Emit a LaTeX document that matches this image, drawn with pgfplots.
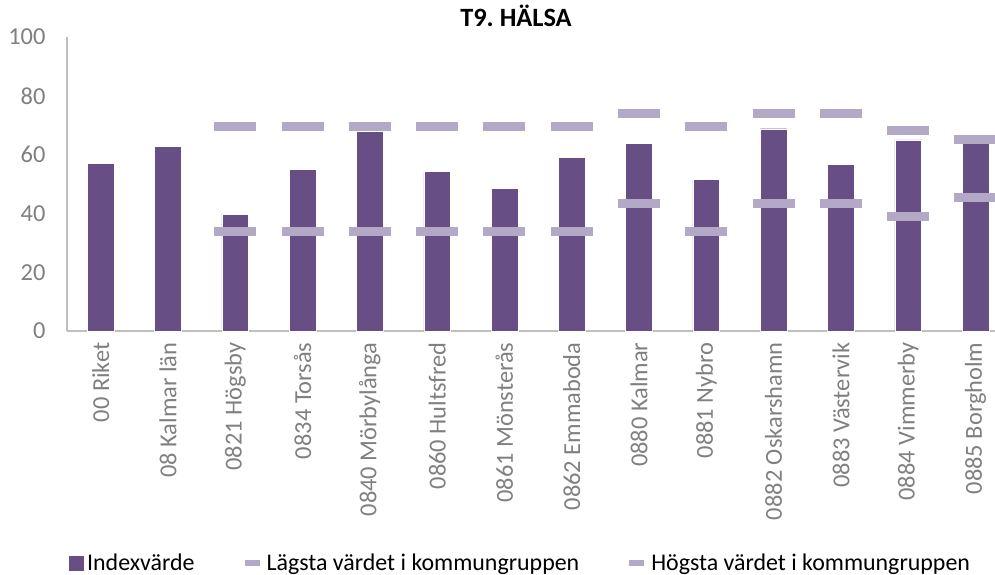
\documentclass[border=0pt]{standalone}
\usepackage{pgfplots}
\pgfplotsset{compat=1.18}
\usepackage{fontspec}
\setmainfont{Carlito}
\definecolor{barc}{HTML}{674F86}
\definecolor{markc}{HTML}{B4A8C7}
\definecolor{axc}{HTML}{BFBFBF}
\definecolor{txc}{HTML}{808080}
\begin{document}
\begin{tikzpicture}
\useasboundingbox (-67bp,-244bp) rectangle (928bp,331bp);
\begin{axis}[
  at={(0,0)}, anchor=south west,
  scale only axis, width=928bp, height=294bp,
  xmin=-0.5, xmax=13.29, ymin=0, ymax=100,
  ytick={0,20,...,100},
  xtick={0,...,13},
  xticklabels={00 Riket,08 Kalmar län,0821 Högsby,0834 Torsås,0840 Mörbylånga,0860 Hultsfred,0861 Mönsterås,0862 Emmaboda,0880 Kalmar,0881 Nybro,0882 Oskarshamn,0883 Västervik,0884 Vimmerby,0885 Borgholm},
  major tick length=0pt,
  axis x line*=bottom, axis y line*=left,
  axis line style={axc, line width=1.5bp, -},
  /pgf/number format/assume math mode=true,
  yticklabel style={font=\fontsize{24.5}{24.5}\selectfont, text=txc, xshift=-18bp},
  xticklabel style={font=\fontsize{24.5}{24.5}\selectfont, text=txc, rotate=90, anchor=east, xshift=-8bp},
  title={T9.\ HÄLSA},
  title style={font=\bfseries\fontsize{26.5}{26.5}\selectfont, at={(0.5,1)}, anchor=center, yshift=15bp, xshift=-15bp},
  clip=false,
  legend style={at={(0.488,-0.79)}, anchor=center, draw=none, legend columns=3,
    font=\fontsize{24}{24}\selectfont, column sep=0bp, nodes={inner sep=1bp},
    /tikz/every odd column/.append style={column sep=3bp},
    /tikz/every even column/.append style={column sep=46bp}},
]
\addplot[ybar, bar width=26.7bp, fill=barc, draw=white, line width=0.4bp,
  legend image code/.code={\fill[barc] (0bp,-7bp) rectangle (14bp,7bp);}]
  coordinates {(0,57) (1,62.7) (2,39.7) (3,55) (4,68) (5,54.2) (6,48.5) (7,59.1) (8,63.8) (9,51.6) (10,68.8) (11,56.7) (12,65) (13,64.3)};
\addlegendentry{Indexvärde}
\addplot[only marks, mark=-, mark size=21bp, mark options={line width=9bp, color=markc}, color=markc,
  legend image code/.code={\draw[markc, line width=6bp] (0bp,0bp) -- (15bp,0bp);}]
  coordinates {(2,34) (3,34) (4,34) (5,34) (6,34) (7,34) (8,43.5) (9,34) (10,43.5) (11,43.5) (12,38.9) (13,45.5)};
\addlegendentry{Lägsta värdet i kommungruppen}
\addplot[only marks, mark=-, mark size=21bp, mark options={line width=9bp, color=markc}, color=markc,
  legend image code/.code={\draw[markc, line width=6bp] (0bp,0bp) -- (15bp,0bp);}]
  coordinates {(2,69.5) (3,69.5) (4,69.5) (5,69.5) (6,69.5) (7,69.5) (8,74) (9,69.5) (10,74) (11,74) (12,68.1) (13,65.3)};
\addlegendentry{Högsta värdet i kommungruppen}
\end{axis}
\end{tikzpicture}
\end{document}
